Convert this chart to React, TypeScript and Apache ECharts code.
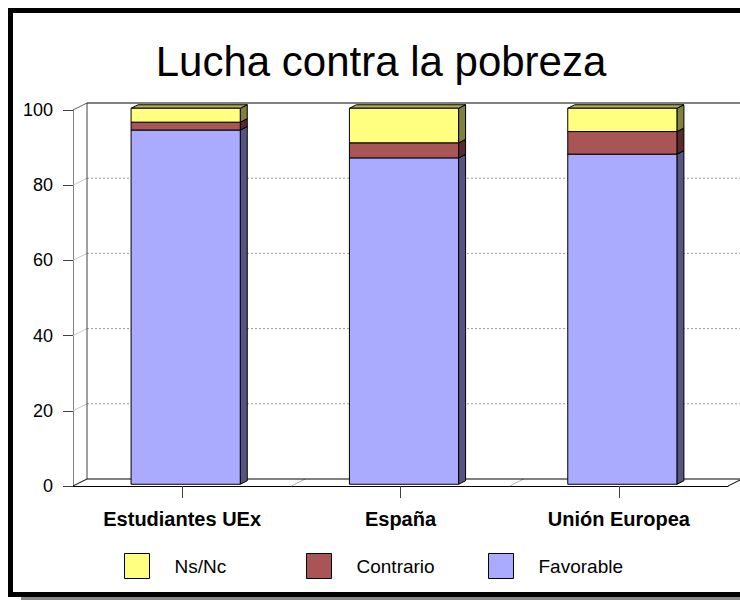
import React, { useEffect, useRef } from "react";
import * as echarts from "echarts";

const TITLE = "Lucha contra la pobreza";
const categories = ["Estudiantes UEx", "España", "Unión Europea"];
const favorable = [94.2, 86.8, 87.8];
const contrario = [2.1, 4.0, 6.0];
const nsnc = [3.7, 9.2, 6.2];
const yTicks = [0, 20, 40, 60, 80, 100];

const FONT = "'Liberation Sans', Arial, Helvetica, sans-serif";

const palette = {
  favorable: { front: "#AAAAFF", side: "#55557F", top: "#8080C0" },
  contrario: { front: "#AA5555", side: "#552B2B", top: "#804040" },
  nsnc: { front: "#FFFF80", side: "#808040", top: "#B0B058" },
};

const DX = 14;
const DY = 7;

function makeBar(c: { front: string; side: string; top: string }) {
  return (params: any, api: any) => {
    const cat = api.value(0);
    const base = api.value(1);
    const top = api.value(2);
    const p0 = api.coord([cat, base]);
    const p1 = api.coord([cat, top]);
    const band = api.size([1, 0])[0];
    const w = band * 0.5;
    const ox = DX / 4;
    const oy = DY / 4;
    const dx = DX / 2;
    const dy = DY / 2;
    const x = p0[0] - w / 2 + ox;
    const yb = p0[1] - oy;
    const yt = p1[1] - oy;
    return {
      type: "group",
      children: [
        {
          type: "polygon",
          shape: { points: [[x + w, yt], [x + w + dx, yt - dy], [x + w + dx, yb - dy], [x + w, yb]] },
          style: { fill: c.side, stroke: "#000", lineWidth: 1 },
        },
        {
          type: "polygon",
          shape: { points: [[x, yt], [x + dx, yt - dy], [x + w + dx, yt - dy], [x + w, yt]] },
          style: { fill: c.top, stroke: "#000", lineWidth: 1 },
        },
        {
          type: "rect",
          shape: { x, y: yt, width: w, height: yb - yt },
          style: { fill: c.front, stroke: "#000", lineWidth: 1 },
        },
      ],
    };
  };
}

function renderFrame(params: any, api: any) {
  const cs = params.coordSys;
  const L = cs.x;
  const R = cs.x + cs.width;
  const T = cs.y;
  const B = cs.y + cs.height;
  const children: any[] = [];
  children.push({
    type: "polygon",
    shape: { points: [[L + DX, T - DY], [R + DX, T - DY], [R + DX, B - DY], [L + DX, B - DY]] },
    style: { fill: "#FFFFFF", stroke: null },
  });
  yTicks.forEach((v) => {
    if (v === 0 || v === 100) return;
    const y = api.coord([0, v])[1];
    children.push({
      type: "line",
      shape: { x1: L + DX, y1: y - DY, x2: R + DX, y2: y - DY },
      style: { stroke: "#9A9A9A", lineWidth: 1, lineDash: [2, 2] },
    });
    children.push({
      type: "line",
      shape: { x1: L, y1: y, x2: L + DX, y2: y - DY },
      style: { stroke: "#C8C8C8", lineWidth: 1 },
    });
  });
  const band = cs.width / categories.length;
  for (let k = 1; k < categories.length; k++) {
    const x = L + band * k;
    children.push({
      type: "line",
      shape: { x1: x, y1: B, x2: x + DX, y2: B - DY },
      style: { stroke: "#B0B0B0", lineWidth: 1 },
    });
  }
  children.push({
    type: "line",
    shape: { x1: L, y1: T, x2: L + DX, y2: T - DY },
    style: { stroke: "#606060", lineWidth: 1 },
  });
  children.push({
    type: "line",
    shape: { x1: L + DX, y1: T - DY, x2: L + DX, y2: B - DY },
    style: { stroke: "#404040", lineWidth: 1 },
  });
  children.push({
    type: "line",
    shape: { x1: L + DX, y1: T - DY, x2: R + DX, y2: T - DY },
    style: { stroke: "#000", lineWidth: 1 },
  });
  children.push({
    type: "line",
    shape: { x1: L + DX, y1: B - DY, x2: R + DX, y2: B - DY },
    style: { stroke: "#000", lineWidth: 1 },
  });
  children.push({
    type: "line",
    shape: { x1: L, y1: B, x2: L + DX, y2: B - DY },
    style: { stroke: "#000", lineWidth: 1 },
  });
  children.push({
    type: "line",
    shape: { x1: R, y1: B, x2: R + DX, y2: B - DY },
    style: { stroke: "#000", lineWidth: 1 },
  });
  return { type: "group", children };
}

export default function App() {
  const ref = useRef<HTMLDivElement>(null);

  useEffect(() => {
    document.body.style.margin = "0";
    if (!ref.current) return;
    const chart = echarts.init(ref.current, undefined, { renderer: "svg" });

    const favData = categories.map((_, i) => [i, 0, favorable[i]]);
    const conData = categories.map((_, i) => [i, favorable[i], favorable[i] + contrario[i]]);
    const nsData = categories.map((_, i) => [
      i,
      favorable[i] + contrario[i],
      favorable[i] + contrario[i] + nsnc[i],
    ]);

    const legendBase = {
      orient: "horizontal",
      top: 553,
      padding: 0,
      itemWidth: 25,
      itemHeight: 25,
      icon: "rect",
      selectedMode: false,
      itemStyle: { borderColor: "#000", borderWidth: 1 },
      textStyle: { fontFamily: FONT, fontSize: 19, color: "#000", padding: [0, 0, 0, 20] },
    };

    chart.setOption({
      animation: false,
      backgroundColor: "#FFFFFF",
      title: {
        text: TITLE,
        left: 376,
        textAlign: "center",
        top: 35,
        textStyle: { fontFamily: FONT, fontSize: 42, fontWeight: "normal", color: "#000" },
      },
      legend: [
        { ...legendBase, left: 124, data: ["Ns/Nc"] },
        { ...legendBase, left: 306, data: ["Contrario"] },
        { ...legendBase, left: 488, data: ["Favorable"] },
      ],
      grid: { left: 73, top: 110, width: 655, height: 376 },
      xAxis: {
        type: "category",
        data: categories,
        axisLine: { show: true, lineStyle: { color: "#000", width: 1 } },
        axisTick: { show: true, alignWithLabel: true, length: 12, lineStyle: { color: "#404040" } },
        axisLabel: {
          margin: 23,
          fontFamily: FONT,
          fontSize: 20,
          fontWeight: "bold",
          color: "#000",
        },
        splitLine: { show: false },
      },
      yAxis: {
        type: "value",
        min: 0,
        max: 100,
        interval: 20,
        axisLine: { show: true, lineStyle: { color: "#808080", width: 1 } },
        axisTick: { show: true, length: 10, lineStyle: { color: "#404040" } },
        axisLabel: { margin: 20, fontFamily: FONT, fontSize: 18, color: "#000" },
        splitLine: { show: false },
      },
      graphic: [
        {
          type: "rect",
          z: 100,
          shape: { x: 21, y: 597, width: 800, height: 3 },
          style: { fill: "#8A8A8A" },
          silent: true,
        },
        {
          type: "rect",
          z: 100,
          shape: { x: 10.5, y: 10.5, width: 800, height: 584 },
          style: { fill: "none", stroke: "#000", lineWidth: 5 },
          silent: true,
        },
      ],
      series: [
        {
          name: "frame",
          type: "custom",
          z: 1,
          silent: true,
          renderItem: renderFrame,
          data: [[0, 0]],
          encode: { x: 0, y: 1 },
          clip: false,
        },
        {
          name: "Favorable",
          type: "custom",
          z: 2,
          renderItem: makeBar(palette.favorable),
          itemStyle: { color: palette.favorable.front },
          data: favData,
          encode: { x: 0, y: [1, 2] },
          clip: false,
        },
        {
          name: "Contrario",
          type: "custom",
          z: 3,
          renderItem: makeBar(palette.contrario),
          itemStyle: { color: palette.contrario.front },
          data: conData,
          encode: { x: 0, y: [1, 2] },
          clip: false,
        },
        {
          name: "Ns/Nc",
          type: "custom",
          z: 4,
          renderItem: makeBar(palette.nsnc),
          itemStyle: { color: palette.nsnc.front },
          data: nsData,
          encode: { x: 0, y: [1, 2] },
          clip: false,
        },
      ],
    });

    return () => chart.dispose();
  }, []);

  return <div ref={ref} style={{ width: 740, height: 600 }} />;
}
